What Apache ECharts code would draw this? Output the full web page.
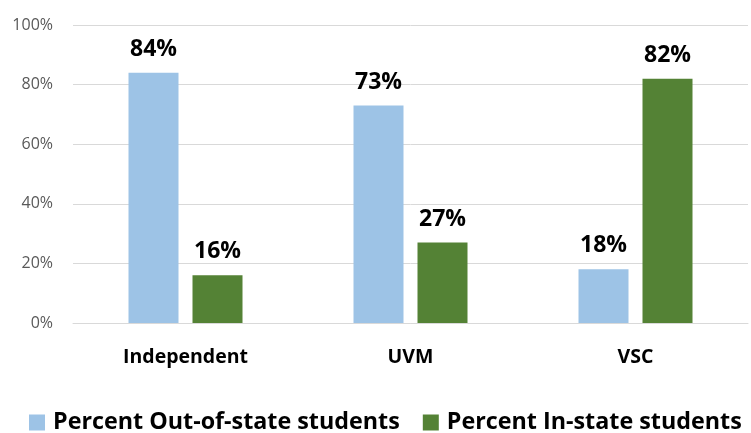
<!DOCTYPE html>
<html>
<head>
<meta charset="utf-8">
<script src="https://cdn.jsdelivr.net/npm/echarts@6/dist/echarts.min.js"></script>
<style>
  html, body { margin: 0; padding: 0; background: #fff; }
  #main { width: 751px; height: 433px; }
</style>
</head>
<body>
<div id="main"></div>
<script>
var categories = ['Independent', 'UVM', 'VSC']
var outOfState = [84, 73, 18]
var inState = [16, 27, 82]
var seriesNames = ['Percent Out-of-state students', 'Percent In-state students']

var font = 'Open Sans'
var labelStyle = {
  show: true,
  position: 'top',
  distance: 12,
  formatter: function (p) { return p.value + '%' },
  fontFamily: font,
  fontWeight: 'bold',
  fontSize: 23,
  color: '#000'
}

var option = {
  animation: false,
  color: ['#9DC3E6', '#548235'],
  grid: { left: 73, right: 3, top: 25, bottom: 110 },
  legend: {
    data: seriesNames,
    top: 406,
    left: 24,
    itemWidth: 16,
    itemHeight: 16,
    itemGap: 23,
    icon: 'rect',
    textStyle: { fontFamily: font, fontWeight: 'bold', fontSize: 23.3, color: '#000', padding: [0, 0, 0, 3] }
  },
  xAxis: {
    type: 'category',
    data: categories,
    axisTick: { show: false },
    axisLine: { lineStyle: { color: '#d9d9d9', width: 1 } },
    axisLabel: { fontFamily: font, fontWeight: 'bold', fontSize: 19.5, color: '#000', margin: 24 }
  },
  yAxis: {
    type: 'value',
    min: 0,
    max: 100,
    interval: 20,
    axisLine: { show: false },
    axisTick: { show: false },
    splitLine: { lineStyle: { color: '#d9d9d9', width: 1 } },
    axisLabel: { formatter: '{value}%', fontFamily: font, fontSize: 16, color: '#595959', margin: 20 }
  },
  series: [
    { name: seriesNames[0], type: 'bar', data: outOfState, barWidth: 50, barGap: '28%', label: labelStyle },
    { name: seriesNames[1], type: 'bar', data: inState, barWidth: 50, barGap: '28%', label: labelStyle }
  ]
}

var myChart = echarts.init(document.getElementById('main'))
myChart.setOption(option)
</script>
</body>
</html>
